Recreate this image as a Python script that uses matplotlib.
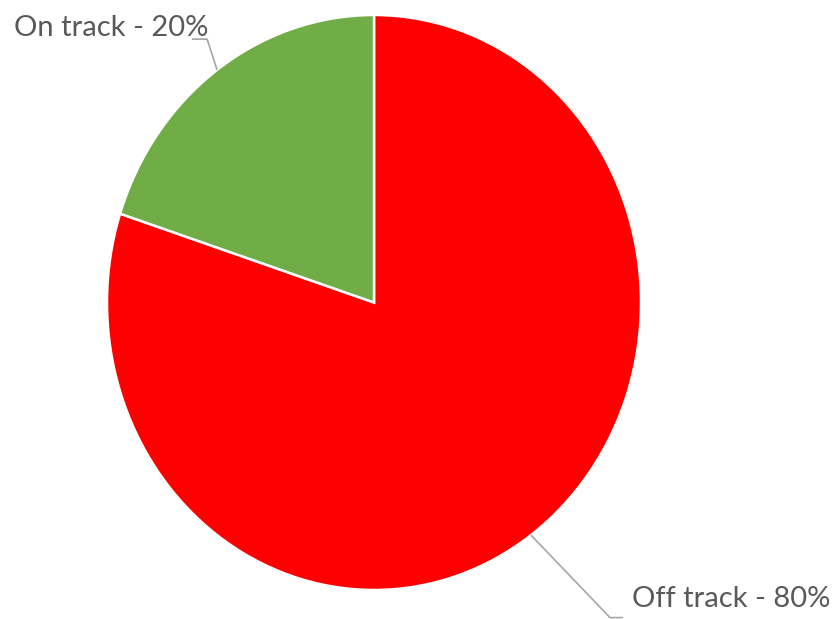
import matplotlib.pyplot as plt
import numpy as np

# data
labels = ["Off track", "On track"]
shares = [80, 20]
colors = ["#FF0000", "#70AD47"]

fig = plt.figure(figsize=(8.32, 6.19), dpi=100)
ax = fig.add_axes([0, 0, 1, 1])

wedges, _ = ax.pie(shares, colors=colors, startangle=90, counterclock=False,
                   radius=1, center=(0, 0),
                   wedgeprops=dict(edgecolor="white", linewidth=1.8))

# stretch the pie a little taller than wide
ax.set_aspect("auto")
ax.set_xlim(-374 / 267, (832 - 374) / 267)
ax.set_ylim(-(619 - 302.5) / 287.5, 302.5 / 287.5)
ax.axis("off")

line_kw = dict(color="#A6A6A6", linewidth=1.2, solid_capstyle="butt")
text_kw = dict(color="#595959", fontsize=21, family=["Lato", "DejaVu Sans"])

# label anchor points: (elbow, end of short horizontal stub, text baseline position, alignment)
layout = {
    "On track": ((-0.625, 0.916), (-0.682, 0.916), (-0.622, 0.927), "right"),
    "Off track": ((0.884, -1.096), (0.933, -1.096), (0.966, -1.059), "left"),
}

for w, lab, val in zip(wedges, labels, shares):
    mid = np.deg2rad((w.theta1 + w.theta2) / 2)
    edge = (np.cos(mid), np.sin(mid))
    elbow, stub, txt, ha = layout[lab]
    ax.plot([edge[0], elbow[0], stub[0]], [edge[1], elbow[1], stub[1]], **line_kw)
    ax.text(txt[0], txt[1], f"{lab} - {val}%", ha=ha, va="baseline", **text_kw)

fig.savefig("out.png", dpi=100)
